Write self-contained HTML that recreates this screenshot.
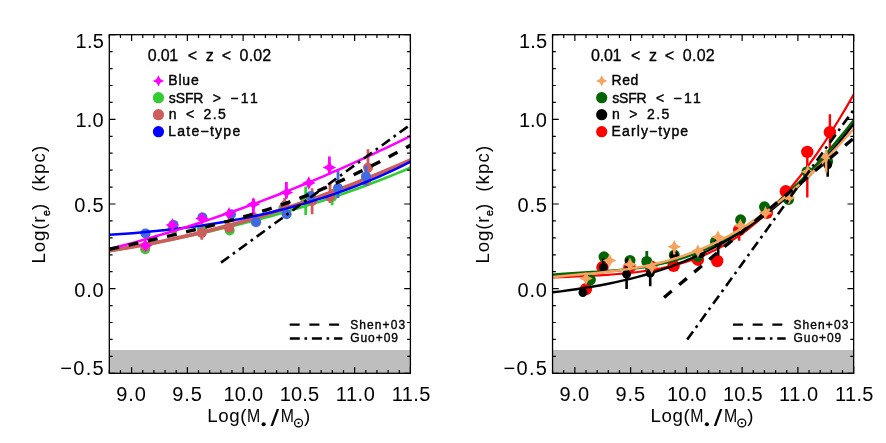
<!DOCTYPE html>
<html><head><meta charset="utf-8"><title>Size-mass relation</title>
<style>html,body{margin:0;padding:0;background:#fff}svg{display:block;will-change:transform}text{font-family:"Liberation Sans",sans-serif;fill:#000}</style>
</head><body>
<svg width="886" height="443" viewBox="0 0 886 443">
<rect width="886" height="443" fill="#fff"/>
<defs><clipPath id="cl"><rect x="109.3" y="34.7" width="301.1" height="338.6"/></clipPath>
<clipPath id="cr"><rect x="552.55" y="34.7" width="301.1" height="338.6"/></clipPath></defs>
<rect x="109.3" y="350" width="301.1" height="23.3" fill="#bebebe"/>
<g clip-path="url(#cl)">
<path d="M305.7 186.6 V215" stroke="#32cd32" stroke-width="2.8" fill="none"/>
<path d="M332.1 189 V205.2" stroke="#32cd32" stroke-width="2.8" fill="none"/>
<circle cx="145.2" cy="249.3" r="5" fill="#32cd32"/>
<circle cx="173.2" cy="228.8" r="5" fill="#32cd32"/>
<circle cx="201.8" cy="229.5" r="5" fill="#32cd32"/>
<circle cx="229.7" cy="230.4" r="5" fill="#32cd32"/>
<circle cx="255.5" cy="221.5" r="5" fill="#32cd32"/>
<circle cx="283.3" cy="208.6" r="5" fill="#32cd32"/>
<circle cx="305.7" cy="200.8" r="5" fill="#32cd32"/>
<circle cx="332.1" cy="197" r="5" fill="#32cd32"/>
<circle cx="366" cy="181" r="5" fill="#32cd32"/>
<path d="M109.5 251.11 L117.22 249.77 L124.94 248.4 L132.65 247.01 L140.37 245.6 L148.09 244.15 L155.81 242.67 L163.53 241.16 L171.24 239.62 L178.96 238.05 L186.68 236.44 L194.4 234.79 L202.12 233.1 L209.83 231.37 L217.55 229.6 L225.27 227.79 L232.99 225.94 L240.71 224.03 L248.42 222.08 L256.14 220.08 L263.86 218.04 L271.58 215.93 L279.29 213.78 L287.01 211.57 L294.73 209.31 L302.45 206.99 L310.17 204.61 L317.88 202.17 L325.6 199.66 L333.32 197.1 L341.04 194.47 L348.76 191.77 L356.47 189.01 L364.19 186.17 L371.91 183.27 L379.63 180.3 L387.35 177.25 L395.06 174.12 L402.78 170.93 L410.5 167.65" stroke="#32cd32" stroke-width="2.6" fill="none"/>
<path d="M201.8 226 V239.7" stroke="#cd5c5c" stroke-width="2.8" fill="none"/>
<path d="M254.9 212.5 V224.5" stroke="#cd5c5c" stroke-width="2.8" fill="none"/>
<path d="M284.7 198 V212" stroke="#cd5c5c" stroke-width="2.8" fill="none"/>
<path d="M312.1 188.2 V214.2" stroke="#cd5c5c" stroke-width="2.8" fill="none"/>
<path d="M330 183 V203" stroke="#cd5c5c" stroke-width="2.8" fill="none"/>
<path d="M368 149.2 V186" stroke="#cd5c5c" stroke-width="2.8" fill="none"/>
<circle cx="145.4" cy="246.5" r="5" fill="#cd5c5c"/>
<circle cx="172.6" cy="227.5" r="5" fill="#cd5c5c"/>
<circle cx="201.8" cy="232.9" r="5" fill="#cd5c5c"/>
<circle cx="229.1" cy="227.9" r="5" fill="#cd5c5c"/>
<circle cx="254.9" cy="218.5" r="5" fill="#cd5c5c"/>
<circle cx="284.7" cy="205.5" r="5" fill="#cd5c5c"/>
<circle cx="312.1" cy="201" r="5" fill="#cd5c5c"/>
<circle cx="330" cy="196.8" r="5" fill="#cd5c5c"/>
<circle cx="368" cy="167.8" r="5" fill="#cd5c5c"/>
<path d="M109.5 250.53 L117.22 249.36 L124.94 248.12 L132.65 246.82 L140.37 245.46 L148.09 244.04 L155.81 242.55 L163.53 240.99 L171.24 239.38 L178.96 237.7 L186.68 235.96 L194.4 234.16 L202.12 232.3 L209.83 230.37 L217.55 228.39 L225.27 226.34 L232.99 224.24 L240.71 222.07 L248.42 219.85 L256.14 217.56 L263.86 215.22 L271.58 212.82 L279.29 210.36 L287.01 207.84 L294.73 205.27 L302.45 202.64 L310.17 199.95 L317.88 197.21 L325.6 194.41 L333.32 191.55 L341.04 188.64 L348.76 185.68 L356.47 182.65 L364.19 179.58 L371.91 176.45 L379.63 173.27 L387.35 170.03 L395.06 166.74 L402.78 163.4 L410.5 160.01" stroke="#cd5c5c" stroke-width="3.8" fill="none"/>
<path d="M338 171 V198" stroke="#4169e1" stroke-width="2.8" fill="none"/>
<path d="M366 165.7 V185.5" stroke="#4169e1" stroke-width="2.8" fill="none"/>
<circle cx="145.5" cy="233.4" r="5" fill="#4169e1"/>
<circle cx="173.5" cy="224.9" r="5" fill="#4169e1"/>
<circle cx="202.4" cy="217.4" r="5" fill="#4169e1"/>
<circle cx="231" cy="214.3" r="5" fill="#4169e1"/>
<circle cx="256.1" cy="222.2" r="5" fill="#4169e1"/>
<circle cx="286.6" cy="214.2" r="5" fill="#4169e1"/>
<circle cx="310.8" cy="195.9" r="5" fill="#4169e1"/>
<circle cx="338" cy="188" r="5" fill="#4169e1"/>
<circle cx="366" cy="176.4" r="5" fill="#4169e1"/>
<path d="M109.5 234.81 L117.22 234.29 L124.94 233.73 L132.65 233.13 L140.37 232.48 L148.09 231.79 L155.81 231.05 L163.53 230.25 L171.24 229.41 L178.96 228.5 L186.68 227.54 L194.4 226.51 L202.12 225.42 L209.83 224.26 L217.55 223.02 L225.27 221.72 L232.99 220.34 L240.71 218.88 L248.42 217.35 L256.14 215.72 L263.86 214.01 L271.58 212.22 L279.29 210.33 L287.01 208.35 L294.73 206.27 L302.45 204.09 L310.17 201.81 L317.88 199.43 L325.6 196.94 L333.32 194.33 L341.04 191.62 L348.76 188.79 L356.47 185.85 L364.19 182.78 L371.91 179.59 L379.63 176.28 L387.35 172.84 L395.06 169.26 L402.78 165.56 L410.5 161.71" stroke="#0000ff" stroke-width="2.5" fill="none"/>
<path d="M253.4 198.4 V214.2" stroke="#ff00ff" stroke-width="2.8" fill="none"/>
<path d="M286.4 181.9 V198.6" stroke="#ff00ff" stroke-width="2.8" fill="none"/>
<path d="M329.4 156.5 V174.5" stroke="#ff00ff" stroke-width="2.8" fill="none"/>
<path d="M145.5 238.7 L147.74 243.26 L152.3 245.5 L147.74 247.74 L145.5 252.3 L143.26 247.74 L138.7 245.5 L143.26 243.26Z" fill="#ff00ff"/>
<path d="M172.3 218.1 L174.54 222.66 L179.1 224.9 L174.54 227.14 L172.3 231.7 L170.06 227.14 L165.5 224.9 L170.06 222.66Z" fill="#ff00ff"/>
<path d="M201.9 211.6 L204.14 216.16 L208.7 218.4 L204.14 220.64 L201.9 225.2 L199.66 220.64 L195.1 218.4 L199.66 216.16Z" fill="#ff00ff"/>
<path d="M229.1 206.9 L231.34 211.46 L235.9 213.7 L231.34 215.94 L229.1 220.5 L226.86 215.94 L222.3 213.7 L226.86 211.46Z" fill="#ff00ff"/>
<path d="M253.4 197.4 L255.64 201.96 L260.2 204.2 L255.64 206.44 L253.4 211 L251.16 206.44 L246.6 204.2 L251.16 201.96Z" fill="#ff00ff"/>
<path d="M286.4 185.6 L288.64 190.16 L293.2 192.4 L288.64 194.64 L286.4 199.2 L284.16 194.64 L279.6 192.4 L284.16 190.16Z" fill="#ff00ff"/>
<path d="M308.8 176.3 L311.04 180.86 L315.6 183.1 L311.04 185.34 L308.8 189.9 L306.56 185.34 L302 183.1 L306.56 180.86Z" fill="#ff00ff"/>
<path d="M329.4 160.8 L331.64 165.36 L336.2 167.6 L331.64 169.84 L329.4 174.4 L327.16 169.84 L322.6 167.6 L327.16 165.36Z" fill="#ff00ff"/>
<path d="M109.5 248.97 L117.22 246.98 L124.94 244.94 L132.65 242.86 L140.37 240.73 L148.09 238.55 L155.81 236.32 L163.53 234.05 L171.24 231.73 L178.96 229.36 L186.68 226.94 L194.4 224.48 L202.12 221.97 L209.83 219.41 L217.55 216.8 L225.27 214.15 L232.99 211.45 L240.71 208.7 L248.42 205.9 L256.14 203.05 L263.86 200.16 L271.58 197.22 L279.29 194.23 L287.01 191.19 L294.73 188.11 L302.45 184.98 L310.17 181.8 L317.88 178.57 L325.6 175.29 L333.32 171.96 L341.04 168.59 L348.76 165.17 L356.47 161.7 L364.19 158.18 L371.91 154.61 L379.63 150.99 L387.35 147.33 L395.06 143.61 L402.78 139.85 L410.5 136.04" stroke="#ff00ff" stroke-width="2.5" fill="none"/>
<path d="M109.3 249.28 L114.4 248.17 L119.51 247.05 L124.61 245.92 L129.71 244.79 L134.82 243.66 L139.92 242.52 L145.02 241.38 L150.13 240.23 L155.23 239.07 L160.33 237.91 L165.44 236.74 L170.54 235.55 L175.64 234.36 L180.75 233.16 L185.85 231.94 L190.95 230.71 L196.06 229.46 L201.16 228.2 L206.26 226.92 L211.37 225.63 L216.47 224.31 L221.57 222.97 L226.68 221.6 L231.78 220.21 L236.88 218.79 L241.99 217.34 L247.09 215.85 L252.19 214.34 L257.3 212.78 L262.4 211.19 L267.51 209.56 L272.61 207.88 L277.71 206.16 L282.82 204.4 L287.92 202.59 L293.02 200.73 L298.13 198.82 L303.23 196.86 L308.33 194.85 L313.44 192.79 L318.54 190.67 L323.64 188.51 L328.75 186.3 L333.85 184.03 L338.95 181.72 L344.06 179.37 L349.16 176.96 L354.26 174.52 L359.37 172.03 L364.47 169.5 L369.57 166.94 L374.68 164.34 L379.78 161.7 L384.88 159.04 L389.99 156.34 L395.09 153.62 L400.19 150.87 L405.3 148.1 L410.4 145.3" stroke="#000" stroke-width="3.4" fill="none" stroke-dasharray="10 9.7"/>
<path d="M221 262.6 L410.6 124.5" stroke="#000" stroke-width="2.6" fill="none" stroke-dasharray="10 4.7 2.6 4.8"/>
</g>
<path d="M109.3 373.3 v-3.3 M109.3 34.7 v3.3 M120.45 373.3 v-3.3 M120.45 34.7 v3.3 M131.6 373.3 v-6.2 M131.6 34.7 v6.2 M142.76 373.3 v-3.3 M142.76 34.7 v3.3 M153.91 373.3 v-3.3 M153.91 34.7 v3.3 M165.06 373.3 v-3.3 M165.06 34.7 v3.3 M176.21 373.3 v-3.3 M176.21 34.7 v3.3 M187.36 373.3 v-6.2 M187.36 34.7 v6.2 M198.51 373.3 v-3.3 M198.51 34.7 v3.3 M209.67 373.3 v-3.3 M209.67 34.7 v3.3 M220.82 373.3 v-3.3 M220.82 34.7 v3.3 M231.97 373.3 v-3.3 M231.97 34.7 v3.3 M243.12 373.3 v-6.2 M243.12 34.7 v6.2 M254.27 373.3 v-3.3 M254.27 34.7 v3.3 M265.43 373.3 v-3.3 M265.43 34.7 v3.3 M276.58 373.3 v-3.3 M276.58 34.7 v3.3 M287.73 373.3 v-3.3 M287.73 34.7 v3.3 M298.88 373.3 v-6.2 M298.88 34.7 v6.2 M310.03 373.3 v-3.3 M310.03 34.7 v3.3 M321.19 373.3 v-3.3 M321.19 34.7 v3.3 M332.34 373.3 v-3.3 M332.34 34.7 v3.3 M343.49 373.3 v-3.3 M343.49 34.7 v3.3 M354.64 373.3 v-6.2 M354.64 34.7 v6.2 M365.79 373.3 v-3.3 M365.79 34.7 v3.3 M376.94 373.3 v-3.3 M376.94 34.7 v3.3 M388.1 373.3 v-3.3 M388.1 34.7 v3.3 M399.25 373.3 v-3.3 M399.25 34.7 v3.3 M410.4 373.3 v-6.2 M410.4 34.7 v6.2 M109.3 373.3 h6.2 M410.4 373.3 h-6.2 M109.3 356.37 h3.3 M410.4 356.37 h-3.3 M109.3 339.44 h3.3 M410.4 339.44 h-3.3 M109.3 322.51 h3.3 M410.4 322.51 h-3.3 M109.3 305.58 h3.3 M410.4 305.58 h-3.3 M109.3 288.65 h6.2 M410.4 288.65 h-6.2 M109.3 271.72 h3.3 M410.4 271.72 h-3.3 M109.3 254.79 h3.3 M410.4 254.79 h-3.3 M109.3 237.86 h3.3 M410.4 237.86 h-3.3 M109.3 220.93 h3.3 M410.4 220.93 h-3.3 M109.3 204 h6.2 M410.4 204 h-6.2 M109.3 187.07 h3.3 M410.4 187.07 h-3.3 M109.3 170.14 h3.3 M410.4 170.14 h-3.3 M109.3 153.21 h3.3 M410.4 153.21 h-3.3 M109.3 136.28 h3.3 M410.4 136.28 h-3.3 M109.3 119.35 h6.2 M410.4 119.35 h-6.2 M109.3 102.42 h3.3 M410.4 102.42 h-3.3 M109.3 85.49 h3.3 M410.4 85.49 h-3.3 M109.3 68.56 h3.3 M410.4 68.56 h-3.3 M109.3 51.63 h3.3 M410.4 51.63 h-3.3 M109.3 34.7 h6.2 M410.4 34.7 h-6.2" stroke="#000" stroke-width="1.2" fill="none"/>
<rect x="109.3" y="34.7" width="301.1" height="338.6" fill="none" stroke="#000" stroke-width="1.3"/>
<text y="400.5" font-size="20"><tspan x="116.18" textLength="29.78" lengthAdjust="spacing">9.0</tspan></text>
<text y="400.5" font-size="20"><tspan x="172.18" textLength="29.68" lengthAdjust="spacing">9.5</tspan></text>
<text y="400.5" font-size="20"><tspan x="223.56" textLength="39.44" lengthAdjust="spacing">10.0</tspan></text>
<text y="400.5" font-size="20"><tspan x="279.76" textLength="39.34" lengthAdjust="spacing">10.5</tspan></text>
<text y="400.5" font-size="20"><tspan x="335.76" textLength="39.09" lengthAdjust="spacing">11.0</tspan></text>
<text y="400.5" font-size="20"><tspan x="391.76" textLength="38.5" lengthAdjust="spacing">11.5</tspan></text>
<text y="47.9" font-size="20"><tspan x="75.56" textLength="28.39" lengthAdjust="spacing">1.5</tspan></text>
<text y="127" font-size="20"><tspan x="75.56" textLength="28.07" lengthAdjust="spacing">1.0</tspan></text>
<text y="211.9" font-size="20"><tspan x="74.33" textLength="29.4" lengthAdjust="spacing">0.5</tspan></text>
<text y="296.8" font-size="20"><tspan x="74.33" textLength="29.25" lengthAdjust="spacing">0.0</tspan></text>
<text y="374.8" font-size="20"><tspan x="60.28" textLength="43.44" lengthAdjust="spacing">&#8722;0.5</tspan></text>
<text y="422.4" font-size="18.7"><tspan x="207.3" textLength="39.1" lengthAdjust="spacing">Log(</tspan><tspan x="246.9" textLength="13.2" lengthAdjust="spacingAndGlyphs">M</tspan><tspan x="270.5" dy="4" font-size="24.5" textLength="8.6" lengthAdjust="spacingAndGlyphs">/</tspan><tspan x="280.7" dy="-4" textLength="13.2" lengthAdjust="spacingAndGlyphs">M</tspan><tspan x="304">)</tspan></text>
<circle cx="263.65" cy="424.3" r="2.05" fill="#000"/>
<circle cx="298.55" cy="423.0" r="3.95" fill="none" stroke="#000" stroke-width="1.3"/>
<circle cx="298.55" cy="423" r="1.1" fill="#000"/>
<text transform="translate(45.3 262.6) rotate(-90)" font-size="18.7"><tspan x="-1" textLength="47.2" lengthAdjust="spacing">Log(r</tspan><tspan x="46.6" dy="4.3" font-size="10.5" stroke="#000" stroke-width="0.4">e</tspan><tspan x="52.6" dy="-4.3">)</tspan> <tspan x="70.8" textLength="46" lengthAdjust="spacing">(kpc)</tspan></text>
<text y="60.7" font-size="16" stroke="#000" stroke-width="0.3"><tspan x="147.73" textLength="30.52" lengthAdjust="spacing">0.01</tspan> <tspan x="187.84">&lt;</tspan> <tspan x="205.74">z</tspan> <tspan x="221.67">&lt;</tspan> <tspan x="239.58" textLength="31.7" lengthAdjust="spacing">0.02</tspan></text>
<path d="M158.45 75.2 L160.33 79.02 L164.15 80.9 L160.33 82.78 L158.45 86.6 L156.57 82.78 L152.75 80.9 L156.57 79.02Z" fill="#ff00ff"/>
<circle cx="158.45" cy="97.7" r="5.6" fill="#32cd32"/>
<circle cx="158.45" cy="114.7" r="5.6" fill="#cd5c5c"/>
<circle cx="158.45" cy="131.7" r="5.6" fill="#0000ff"/>
<text y="85.4" font-size="14" stroke="#000" stroke-width="0.4"><tspan x="168.26" textLength="30.53" lengthAdjust="spacing">Blue</tspan></text>
<text y="102.5" font-size="14" stroke="#000" stroke-width="0.4"><tspan x="168.82" textLength="34.66" lengthAdjust="spacing">sSFR</tspan> <tspan x="212.78">&gt;</tspan> <tspan x="230.16" textLength="27.7" lengthAdjust="spacing">&#8722;11</tspan></text>
<text y="119.2" font-size="14" stroke="#000" stroke-width="0.4"><tspan x="168.66">n</tspan> <tspan x="185.91">&lt;</tspan> <tspan x="203.5" textLength="22.35" lengthAdjust="spacing">2.5</tspan></text>
<text y="135.8" font-size="14" stroke="#000" stroke-width="0.4"><tspan x="168.26" textLength="71.93" lengthAdjust="spacing">Late&#8722;type</tspan></text>
<path d="M289.7 324.6 H342.3" stroke="#000" stroke-width="2.3" fill="none" stroke-dasharray="10 9.7"/>
<path d="M289.8 338.5 H342.4" stroke="#000" stroke-width="2.3" fill="none" stroke-dasharray="10 4.7 2.6 4.8"/>
<text y="328.5" font-size="12" stroke="#000" stroke-width="0.35"><tspan x="350.28" textLength="54.79" lengthAdjust="spacing">Shen+03</tspan></text>
<text y="342.2" font-size="12" stroke="#000" stroke-width="0.35"><tspan x="350.26" textLength="47.67" lengthAdjust="spacing">Guo+09</tspan></text>
<rect x="552.55" y="350" width="301.1" height="23.3" fill="#bebebe"/>
<g clip-path="url(#cr)">
<path d="M739.2 229.9 V240.7" stroke="#ff0000" stroke-width="2.4" fill="none"/>
<path d="M807.3 146 V197.4" stroke="#ff0000" stroke-width="2.4" fill="none"/>
<path d="M829.9 114.2 V150" stroke="#ff0000" stroke-width="2.4" fill="none"/>
<circle cx="586" cy="289.1" r="6.2" fill="#ff0000"/>
<circle cx="602.5" cy="267.3" r="6.2" fill="#ff0000"/>
<circle cx="629.5" cy="267.2" r="6.2" fill="#ff0000"/>
<circle cx="651.2" cy="266.6" r="6.2" fill="#ff0000"/>
<circle cx="673.6" cy="265.9" r="6.2" fill="#ff0000"/>
<circle cx="697.9" cy="259.7" r="6.2" fill="#ff0000"/>
<circle cx="717.2" cy="261" r="6.2" fill="#ff0000"/>
<circle cx="739.2" cy="229.9" r="6.2" fill="#ff0000"/>
<circle cx="766.8" cy="212.9" r="6.2" fill="#ff0000"/>
<circle cx="785.8" cy="191.3" r="6.2" fill="#ff0000"/>
<circle cx="807.3" cy="151.9" r="6.2" fill="#ff0000"/>
<circle cx="829.9" cy="132.2" r="6.2" fill="#ff0000"/>
<path d="M553 277.41 L560.72 277.13 L568.44 276.81 L576.15 276.48 L583.87 276.13 L591.59 275.74 L599.31 275.31 L607.03 274.82 L614.74 274.27 L622.46 273.62 L630.18 272.86 L637.9 271.97 L645.62 270.93 L653.33 269.7 L661.05 268.27 L668.77 266.6 L676.49 264.67 L684.21 262.44 L691.92 259.9 L699.64 257.01 L707.36 253.74 L715.08 250.06 L722.79 245.96 L730.51 241.4 L738.23 236.36 L745.95 230.82 L753.67 224.75 L761.38 218.14 L769.1 210.98 L776.82 203.24 L784.54 194.93 L792.26 186.02 L799.97 176.52 L807.69 166.43 L815.41 155.75 L823.13 144.48 L830.85 132.65 L838.56 120.26 L846.28 107.34 L854 93.92" stroke="#ff0000" stroke-width="2.2" fill="none"/>
<path d="M646.8 250.9 V270" stroke="#006400" stroke-width="2.8" fill="none"/>
<circle cx="590.4" cy="279.8" r="5.5" fill="#006400"/>
<circle cx="604" cy="256.8" r="5.5" fill="#006400"/>
<circle cx="630" cy="260.5" r="5.5" fill="#006400"/>
<circle cx="646.8" cy="261.4" r="5.5" fill="#006400"/>
<circle cx="674.3" cy="255.1" r="5.5" fill="#006400"/>
<circle cx="697.9" cy="256.3" r="5.5" fill="#006400"/>
<circle cx="715.5" cy="241.4" r="5.5" fill="#006400"/>
<circle cx="740.6" cy="219.8" r="5.5" fill="#006400"/>
<circle cx="764.5" cy="206.8" r="5.5" fill="#006400"/>
<circle cx="788.5" cy="199.4" r="5.5" fill="#006400"/>
<circle cx="807" cy="171.7" r="5.5" fill="#006400"/>
<circle cx="827.6" cy="161.5" r="5.5" fill="#006400"/>
<path d="M553 274.79 L560.72 274.13 L568.44 273.58 L576.15 273.1 L583.87 272.65 L591.59 272.2 L599.31 271.73 L607.03 271.21 L614.74 270.6 L622.46 269.87 L630.18 269.02 L637.9 268 L645.62 266.8 L653.33 265.4 L661.05 263.78 L668.77 261.91 L676.49 259.78 L684.21 257.38 L691.92 254.69 L699.64 251.7 L707.36 248.39 L715.08 244.76 L722.79 240.79 L730.51 236.49 L738.23 231.83 L745.95 226.82 L753.67 221.46 L761.38 215.73 L769.1 209.65 L776.82 203.21 L784.54 196.4 L792.26 189.24 L799.97 181.74 L807.69 173.88 L815.41 165.69 L823.13 157.17 L830.85 148.33 L838.56 139.18 L846.28 129.73 L854 120" stroke="#006400" stroke-width="2.7" fill="none"/>
<path d="M603.4 258.6 V270" stroke="#000000" stroke-width="2.6" fill="none"/>
<path d="M626.6 258.6 V289.1" stroke="#000000" stroke-width="2.6" fill="none"/>
<path d="M650.2 266 V286.3" stroke="#000000" stroke-width="2.6" fill="none"/>
<path d="M718.2 242 V255.6" stroke="#000000" stroke-width="2.6" fill="none"/>
<path d="M827.7 155 V176.8" stroke="#000000" stroke-width="2.6" fill="none"/>
<circle cx="582.9" cy="292.6" r="4.4" fill="#000000"/>
<circle cx="603.4" cy="267.3" r="4.4" fill="#000000"/>
<circle cx="626.6" cy="274.2" r="4.4" fill="#000000"/>
<circle cx="650.2" cy="273.2" r="4.4" fill="#000000"/>
<circle cx="674.3" cy="255.5" r="4.4" fill="#000000"/>
<circle cx="701" cy="253.6" r="4.4" fill="#000000"/>
<circle cx="718.2" cy="242.8" r="4.4" fill="#000000"/>
<circle cx="827.7" cy="164.8" r="4.4" fill="#000000"/>
<path d="M553 292.27 L560.72 291.32 L568.44 290.31 L576.15 289.22 L583.87 288.06 L591.59 286.8 L599.31 285.45 L607.03 283.99 L614.74 282.41 L622.46 280.7 L630.18 278.86 L637.9 276.88 L645.62 274.74 L653.33 272.44 L661.05 269.97 L668.77 267.31 L676.49 264.47 L684.21 261.42 L691.92 258.16 L699.64 254.69 L707.36 250.98 L715.08 247.03 L722.79 242.84 L730.51 238.38 L738.23 233.66 L745.95 228.65 L753.67 223.36 L761.38 217.77 L769.1 211.87 L776.82 205.64 L784.54 199.09 L792.26 192.2 L799.97 184.96 L807.69 177.35 L815.41 169.37 L823.13 161.01 L830.85 152.26 L838.56 143.11 L846.28 133.53 L854 123.54" stroke="#000000" stroke-width="2.4" fill="none"/>
<path d="M826.1 150 V172.4" stroke="#f4a460" stroke-width="2.6" fill="none"/>
<path d="M674.2 247 V254.6" stroke="#f4a460" stroke-width="2.6" fill="none"/>
<path d="M586 271.7 L588.24 276.26 L592.8 278.5 L588.24 280.74 L586 285.3 L583.76 280.74 L579.2 278.5 L583.76 276.26Z" fill="#f4a460"/>
<path d="M609.6 253.7 L611.84 258.26 L616.4 260.5 L611.84 262.74 L609.6 267.3 L607.36 262.74 L602.8 260.5 L607.36 258.26Z" fill="#f4a460"/>
<path d="M630 257.6 L632.24 262.16 L636.8 264.4 L632.24 266.64 L630 271.2 L627.76 266.64 L623.2 264.4 L627.76 262.16Z" fill="#f4a460"/>
<path d="M651.8 260.5 L654.04 265.06 L658.6 267.3 L654.04 269.54 L651.8 274.1 L649.56 269.54 L645 267.3 L649.56 265.06Z" fill="#f4a460"/>
<path d="M674.3 240 L676.54 244.56 L681.1 246.8 L676.54 249.04 L674.3 253.6 L672.06 249.04 L667.5 246.8 L672.06 244.56Z" fill="#f4a460"/>
<path d="M697.9 244.2 L700.14 248.76 L704.7 251 L700.14 253.24 L697.9 257.8 L695.66 253.24 L691.1 251 L695.66 248.76Z" fill="#f4a460"/>
<path d="M718 230.2 L720.24 234.76 L724.8 237 L720.24 239.24 L718 243.8 L715.76 239.24 L711.2 237 L715.76 234.76Z" fill="#f4a460"/>
<path d="M740.4 218.8 L742.64 223.36 L747.2 225.6 L742.64 227.84 L740.4 232.4 L738.16 227.84 L733.6 225.6 L738.16 223.36Z" fill="#f4a460"/>
<path d="M765.5 206.1 L767.74 210.66 L772.3 212.9 L767.74 215.14 L765.5 219.7 L763.26 215.14 L758.7 212.9 L763.26 210.66Z" fill="#f4a460"/>
<path d="M788.9 191 L791.14 195.56 L795.7 197.8 L791.14 200.04 L788.9 204.6 L786.66 200.04 L782.1 197.8 L786.66 195.56Z" fill="#f4a460"/>
<path d="M807.7 164.9 L809.94 169.46 L814.5 171.7 L809.94 173.94 L807.7 178.5 L805.46 173.94 L800.9 171.7 L805.46 169.46Z" fill="#f4a460"/>
<path d="M826.1 150.2 L828.34 154.76 L832.9 157 L828.34 159.24 L826.1 163.8 L823.86 159.24 L819.3 157 L823.86 154.76Z" fill="#f4a460"/>
<path d="M553 276.98 L560.72 276.21 L568.44 275.5 L576.15 274.81 L583.87 274.12 L591.59 273.41 L599.31 272.65 L607.03 271.82 L614.74 270.91 L622.46 269.88 L630.18 268.71 L637.9 267.41 L645.62 265.93 L653.33 264.27 L661.05 262.42 L668.77 260.35 L676.49 258.07 L684.21 255.54 L691.92 252.77 L699.64 249.73 L707.36 246.44 L715.08 242.86 L722.79 239.01 L730.51 234.87 L738.23 230.43 L745.95 225.7 L753.67 220.67 L761.38 215.34 L769.1 209.7 L776.82 203.77 L784.54 197.53 L792.26 190.99 L799.97 184.16 L807.69 177.04 L815.41 169.63 L823.13 161.94 L830.85 153.98 L838.56 145.76 L846.28 137.28 L854 128.56" stroke="#f4a460" stroke-width="2.5" fill="none"/>
<path d="M664.07 297.45 L853.65 138.28" stroke="#000" stroke-width="3.4" fill="none" stroke-dasharray="10 9.7"/>
<path d="M687.2 339.6 L854 109.3" stroke="#000" stroke-width="2.6" fill="none" stroke-dasharray="10 4.7 2.6 4.8"/>
</g>
<path d="M552.55 373.3 v-3.3 M552.55 34.7 v3.3 M563.7 373.3 v-3.3 M563.7 34.7 v3.3 M574.85 373.3 v-6.2 M574.85 34.7 v6.2 M586.01 373.3 v-3.3 M586.01 34.7 v3.3 M597.16 373.3 v-3.3 M597.16 34.7 v3.3 M608.31 373.3 v-3.3 M608.31 34.7 v3.3 M619.46 373.3 v-3.3 M619.46 34.7 v3.3 M630.61 373.3 v-6.2 M630.61 34.7 v6.2 M641.76 373.3 v-3.3 M641.76 34.7 v3.3 M652.92 373.3 v-3.3 M652.92 34.7 v3.3 M664.07 373.3 v-3.3 M664.07 34.7 v3.3 M675.22 373.3 v-3.3 M675.22 34.7 v3.3 M686.37 373.3 v-6.2 M686.37 34.7 v6.2 M697.52 373.3 v-3.3 M697.52 34.7 v3.3 M708.68 373.3 v-3.3 M708.68 34.7 v3.3 M719.83 373.3 v-3.3 M719.83 34.7 v3.3 M730.98 373.3 v-3.3 M730.98 34.7 v3.3 M742.13 373.3 v-6.2 M742.13 34.7 v6.2 M753.28 373.3 v-3.3 M753.28 34.7 v3.3 M764.44 373.3 v-3.3 M764.44 34.7 v3.3 M775.59 373.3 v-3.3 M775.59 34.7 v3.3 M786.74 373.3 v-3.3 M786.74 34.7 v3.3 M797.89 373.3 v-6.2 M797.89 34.7 v6.2 M809.04 373.3 v-3.3 M809.04 34.7 v3.3 M820.19 373.3 v-3.3 M820.19 34.7 v3.3 M831.35 373.3 v-3.3 M831.35 34.7 v3.3 M842.5 373.3 v-3.3 M842.5 34.7 v3.3 M853.65 373.3 v-6.2 M853.65 34.7 v6.2 M552.55 373.3 h6.2 M853.65 373.3 h-6.2 M552.55 356.37 h3.3 M853.65 356.37 h-3.3 M552.55 339.44 h3.3 M853.65 339.44 h-3.3 M552.55 322.51 h3.3 M853.65 322.51 h-3.3 M552.55 305.58 h3.3 M853.65 305.58 h-3.3 M552.55 288.65 h6.2 M853.65 288.65 h-6.2 M552.55 271.72 h3.3 M853.65 271.72 h-3.3 M552.55 254.79 h3.3 M853.65 254.79 h-3.3 M552.55 237.86 h3.3 M853.65 237.86 h-3.3 M552.55 220.93 h3.3 M853.65 220.93 h-3.3 M552.55 204 h6.2 M853.65 204 h-6.2 M552.55 187.07 h3.3 M853.65 187.07 h-3.3 M552.55 170.14 h3.3 M853.65 170.14 h-3.3 M552.55 153.21 h3.3 M853.65 153.21 h-3.3 M552.55 136.28 h3.3 M853.65 136.28 h-3.3 M552.55 119.35 h6.2 M853.65 119.35 h-6.2 M552.55 102.42 h3.3 M853.65 102.42 h-3.3 M552.55 85.49 h3.3 M853.65 85.49 h-3.3 M552.55 68.56 h3.3 M853.65 68.56 h-3.3 M552.55 51.63 h3.3 M853.65 51.63 h-3.3 M552.55 34.7 h6.2 M853.65 34.7 h-6.2" stroke="#000" stroke-width="1.2" fill="none"/>
<rect x="552.55" y="34.7" width="301.1" height="338.6" fill="none" stroke="#000" stroke-width="1.3"/>
<text y="400.5" font-size="20"><tspan x="559.41" textLength="29.82" lengthAdjust="spacing">9.0</tspan></text>
<text y="400.5" font-size="20"><tspan x="615.41" textLength="29.67" lengthAdjust="spacing">9.5</tspan></text>
<text y="400.5" font-size="20"><tspan x="666.9" textLength="39.39" lengthAdjust="spacing">10.0</tspan></text>
<text y="400.5" font-size="20"><tspan x="723.06" textLength="39.46" lengthAdjust="spacing">10.5</tspan></text>
<text y="400.5" font-size="20"><tspan x="779.06" textLength="39.05" lengthAdjust="spacing">11.0</tspan></text>
<text y="400.5" font-size="20"><tspan x="835.06" textLength="38.41" lengthAdjust="spacing">11.5</tspan></text>
<text y="47.9" font-size="20"><tspan x="518.9" textLength="28.32" lengthAdjust="spacing">1.5</tspan></text>
<text y="127" font-size="20"><tspan x="518.9" textLength="27.99" lengthAdjust="spacing">1.0</tspan></text>
<text y="211.9" font-size="20"><tspan x="517.57" textLength="29.36" lengthAdjust="spacing">0.5</tspan></text>
<text y="296.8" font-size="20"><tspan x="517.57" textLength="29.36" lengthAdjust="spacing">0.0</tspan></text>
<text y="374.8" font-size="20"><tspan x="503.61" textLength="43.36" lengthAdjust="spacing">&#8722;0.5</tspan></text>
<text y="422.4" font-size="18.7"><tspan x="650.55" textLength="39.1" lengthAdjust="spacing">Log(</tspan><tspan x="690.15" textLength="13.2" lengthAdjust="spacingAndGlyphs">M</tspan><tspan x="713.75" dy="4" font-size="24.5" textLength="8.6" lengthAdjust="spacingAndGlyphs">/</tspan><tspan x="723.95" dy="-4" textLength="13.2" lengthAdjust="spacingAndGlyphs">M</tspan><tspan x="747.25">)</tspan></text>
<circle cx="706.9" cy="424.3" r="2.05" fill="#000"/>
<circle cx="741.8" cy="423.0" r="3.95" fill="none" stroke="#000" stroke-width="1.3"/>
<circle cx="741.8" cy="423" r="1.1" fill="#000"/>
<text transform="translate(488.55 262.6) rotate(-90)" font-size="18.7"><tspan x="-1" textLength="47.2" lengthAdjust="spacing">Log(r</tspan><tspan x="46.6" dy="4.3" font-size="10.5" stroke="#000" stroke-width="0.4">e</tspan><tspan x="52.6" dy="-4.3">)</tspan> <tspan x="70.8" textLength="46" lengthAdjust="spacing">(kpc)</tspan></text>
<text y="60.7" font-size="16" stroke="#000" stroke-width="0.3"><tspan x="591.06" textLength="30.37" lengthAdjust="spacing">0.01</tspan> <tspan x="630.98">&lt;</tspan> <tspan x="649.11">z</tspan> <tspan x="664.82">&lt;</tspan> <tspan x="682.86" textLength="31.87" lengthAdjust="spacing">0.02</tspan></text>
<path d="M601.7 75.2 L603.58 79.02 L607.4 80.9 L603.58 82.78 L601.7 86.6 L599.82 82.78 L596 80.9 L599.82 79.02Z" fill="#f4a460"/>
<circle cx="601.7" cy="97.7" r="5.6" fill="#006400"/>
<circle cx="601.7" cy="114.7" r="5.6" fill="#000000"/>
<circle cx="601.7" cy="131.7" r="5.6" fill="#ff0000"/>
<text y="85.4" font-size="14" stroke="#000" stroke-width="0.4"><tspan x="611.56" textLength="26.86" lengthAdjust="spacing">Red</tspan></text>
<text y="102.5" font-size="14" stroke="#000" stroke-width="0.4"><tspan x="612.18" textLength="34.52" lengthAdjust="spacing">sSFR</tspan> <tspan x="655.99">&lt;</tspan> <tspan x="673.4" textLength="27.46" lengthAdjust="spacing">&#8722;11</tspan></text>
<text y="119.2" font-size="14" stroke="#000" stroke-width="0.4"><tspan x="611.9">n</tspan> <tspan x="629.33">&gt;</tspan> <tspan x="646.88" textLength="22.39" lengthAdjust="spacing">2.5</tspan></text>
<text y="135.8" font-size="14" stroke="#000" stroke-width="0.4"><tspan x="611.56" textLength="76.55" lengthAdjust="spacing">Early&#8722;type</tspan></text>
<path d="M732.95 324.6 H785.55" stroke="#000" stroke-width="2.3" fill="none" stroke-dasharray="10 9.7"/>
<path d="M733.05 338.5 H785.65" stroke="#000" stroke-width="2.3" fill="none" stroke-dasharray="10 4.7 2.6 4.8"/>
<text y="328.5" font-size="12" stroke="#000" stroke-width="0.35"><tspan x="793.38" textLength="55.01" lengthAdjust="spacing">Shen+03</tspan></text>
<text y="342.2" font-size="12" stroke="#000" stroke-width="0.35"><tspan x="793.58" textLength="47.73" lengthAdjust="spacing">Guo+09</tspan></text>
</svg>
</body></html>
